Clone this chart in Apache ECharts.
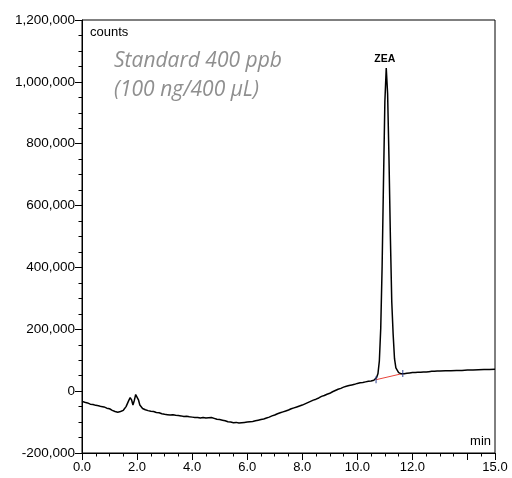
<!DOCTYPE html>
<html>
<head>
<meta charset="utf-8">
<script src="https://cdn.jsdelivr.net/npm/echarts@6/dist/echarts.min.js"></script>
<style>html,body{margin:0;padding:0;background:#fff}#c{width:512px;height:478px}</style>
</head>
<body>
<div id="c"></div>
<script>
// Retention time (min) and detector response (thousand counts)
const times = [
 0.0,0.1,0.2,0.3,0.4,0.5,0.6,0.7,0.8,0.9,1.0,1.1,1.2,1.3,1.4,1.5,1.6,1.7,1.75,1.8,1.85,1.9,1.95,2.0,2.05,2.1,2.2,2.3,2.4,2.5,
 2.6,2.7,2.8,2.9,3.0,3.1,3.2,3.3,3.4,3.5,3.6,3.7,3.8,3.9,4.0,4.1,4.2,4.3,4.4,4.5,4.6,4.7,4.8,4.9,5.0,5.1,5.2,5.3,5.4,5.5,
 5.6,5.7,5.8,5.9,6.0,6.1,6.2,6.3,6.4,6.5,6.6,6.7,6.8,6.9,7.0,7.1,7.2,7.3,7.4,7.5,7.6,7.7,7.8,7.9,8.0,8.1,8.2,8.3,8.4,8.5,
 8.6,8.7,8.8,8.9,9.0,9.1,9.2,9.3,9.4,9.5,9.6,9.7,9.8,9.9,10.0,10.1,10.2,10.3,10.4,10.5,10.6,
 10.65,10.7,10.75,10.8,10.85,10.9,10.95,11.0,11.05,11.1,11.15,11.2,11.25,11.3,11.35,11.4,11.5,11.6,
 11.7,11.8,11.9,12.0,12.1,12.2,12.3,12.4,12.5,12.6,12.7,12.8,12.9,13.0,13.2,13.4,13.6,13.8,14.0,14.2,14.4,14.6,14.8,15.0
];
const countsK = [
 -33,-36,-38,-42,-43,-46,-47,-50,-51,-55,-57,-62,-66,-68,-66,-62,-50,-30,-21,-28,-45,-30,-11,-14,-28,-45,-56,-60,-63,-65,
 -66,-69,-70,-73,-75,-76,-77,-76,-78,-79,-80,-82,-81,-83,-84,-85,-85,-87,-85,-87,-86,-85,-88,-91,-92,-94,-96,-99,-100,-102,
 -101,-103,-102,-101,-100,-99,-98,-96,-94,-92,-90,-87,-84,-80,-77,-73,-70,-67,-64,-61,-57,-54,-51,-48,-45,-41,-37,-33,-29,-26,
 -22,-17,-14,-10,-7,-2,2,6,9,13,16,18,20,22,25,27,28,30,32,33,35,
 37,44,57,98,203,402,678,936,1045,961,750,500,290,185,105,75,60,56,56,
 58,59,60,60,61,61,62,62,63,64,64,65,65,66,66,67,67,68,68,69,70,70,71,72
];
// Peak label and integration baseline
const peakName = 'ZEA';
const peakTime = 11.0;
const peakValueK = 1045;
const baseTimes = [10.68, 11.65];
const baseValuesK = [37, 57];
// Axis ticks
const yTicks = [-200000, 0, 200000, 400000, 600000, 800000, 1000000, 1200000];
const xLabelTicks = [0, 2, 4, 6, 8, 10, 12, 15];

const trace = times.map((t, i) => [t, countsK[i] * 1000]);
const baseLine = baseTimes.map((t, i) => [t, baseValuesK[i] * 1000]);

const chart = echarts.init(document.getElementById('c'), null, {renderer: 'canvas'});
const font = 'Liberation Sans, Arial, sans-serif';
chart.setOption({
  animation: false,
  grid: {left: 82, right: 17, top: 20, bottom: 25, show: true, borderColor: '#000', borderWidth: 1},
  xAxis: [{
    type: 'value', min: 0, max: 15, interval: 2,
    axisLine: {show: true, onZero: false, lineStyle: {color: '#000', width: 1}},
    axisTick: {show: true, length: 7, lineStyle: {color: '#000'}},
    minorTick: {show: false},
    splitLine: {show: false},
    axisLabel: {
      color: '#000', fontFamily: font, fontSize: 13, margin: 8,
      formatter: v => xLabelTicks.includes(v) ? v.toFixed(1) : ''
    }
  }, {
    type: 'value', min: 0, max: 15, interval: 0.5, position: 'bottom',
    axisLine: {show: false, onZero: false},
    axisTick: {show: true, length: 3.5, lineStyle: {color: '#000'}},
    splitLine: {show: false},
    axisLabel: {show: false}
  }],
  yAxis: {
    type: 'value', min: yTicks[0], max: yTicks[yTicks.length - 1], interval: 200000,
    axisLine: {show: true, onZero: false, lineStyle: {color: '#000', width: 1}},
    axisTick: {show: true, length: 7, lineStyle: {color: '#000'}},
    minorTick: {show: true, splitNumber: 4, length: 3.5, lineStyle: {color: '#000'}},
    splitLine: {show: false},
    axisLabel: {
      color: '#000', fontFamily: font, fontSize: 13.5, margin: 7,
      formatter: v => v.toLocaleString('en-US')
    }
  },
  series: [{
    type: 'line', data: trace, showSymbol: false, symbol: 'none',
    lineStyle: {color: '#000', width: 1.5}, z: 3,
    markPoint: {
      symbol: 'circle', symbolSize: 0,
      label: {show: true, formatter: peakName, position: 'top', distance: 3,
        fontFamily: font, fontWeight: 'bold', fontSize: 10.5, color: '#000'},
      data: [{coord: [peakTime, peakValueK * 1000]}]
    }
  }, {
    type: 'line', data: baseLine, showSymbol: false, symbol: 'none',
    lineStyle: {color: '#e8453c', width: 1}, z: 2
  }, {
    type: 'scatter', data: baseLine, symbol: 'rect', symbolSize: [1.2, 7],
    symbolOffset: [0, 0], itemStyle: {color: '#2a3f8f'}, z: 4
  }],
  graphic: [
    {type: 'text', left: 90, top: 26, style: {text: 'counts', font: '13px ' + font, fill: '#000'}},
    {type: 'text', right: 21, top: 435, style: {text: 'min', font: '13px ' + font, fill: '#000'}},
    {type: 'text', left: 114, top: 51, style: {text: 'Standard 400 ppb', font: 'italic 21px "Open Sans", sans-serif', fill: '#8f8f8f'}},
    {type: 'text', left: 114, top: 80, style: {text: '(100 ng/400 µL)', font: 'italic 21px "Open Sans", sans-serif', fill: '#8f8f8f'}}
  ]
});
</script>
</body>
</html>
